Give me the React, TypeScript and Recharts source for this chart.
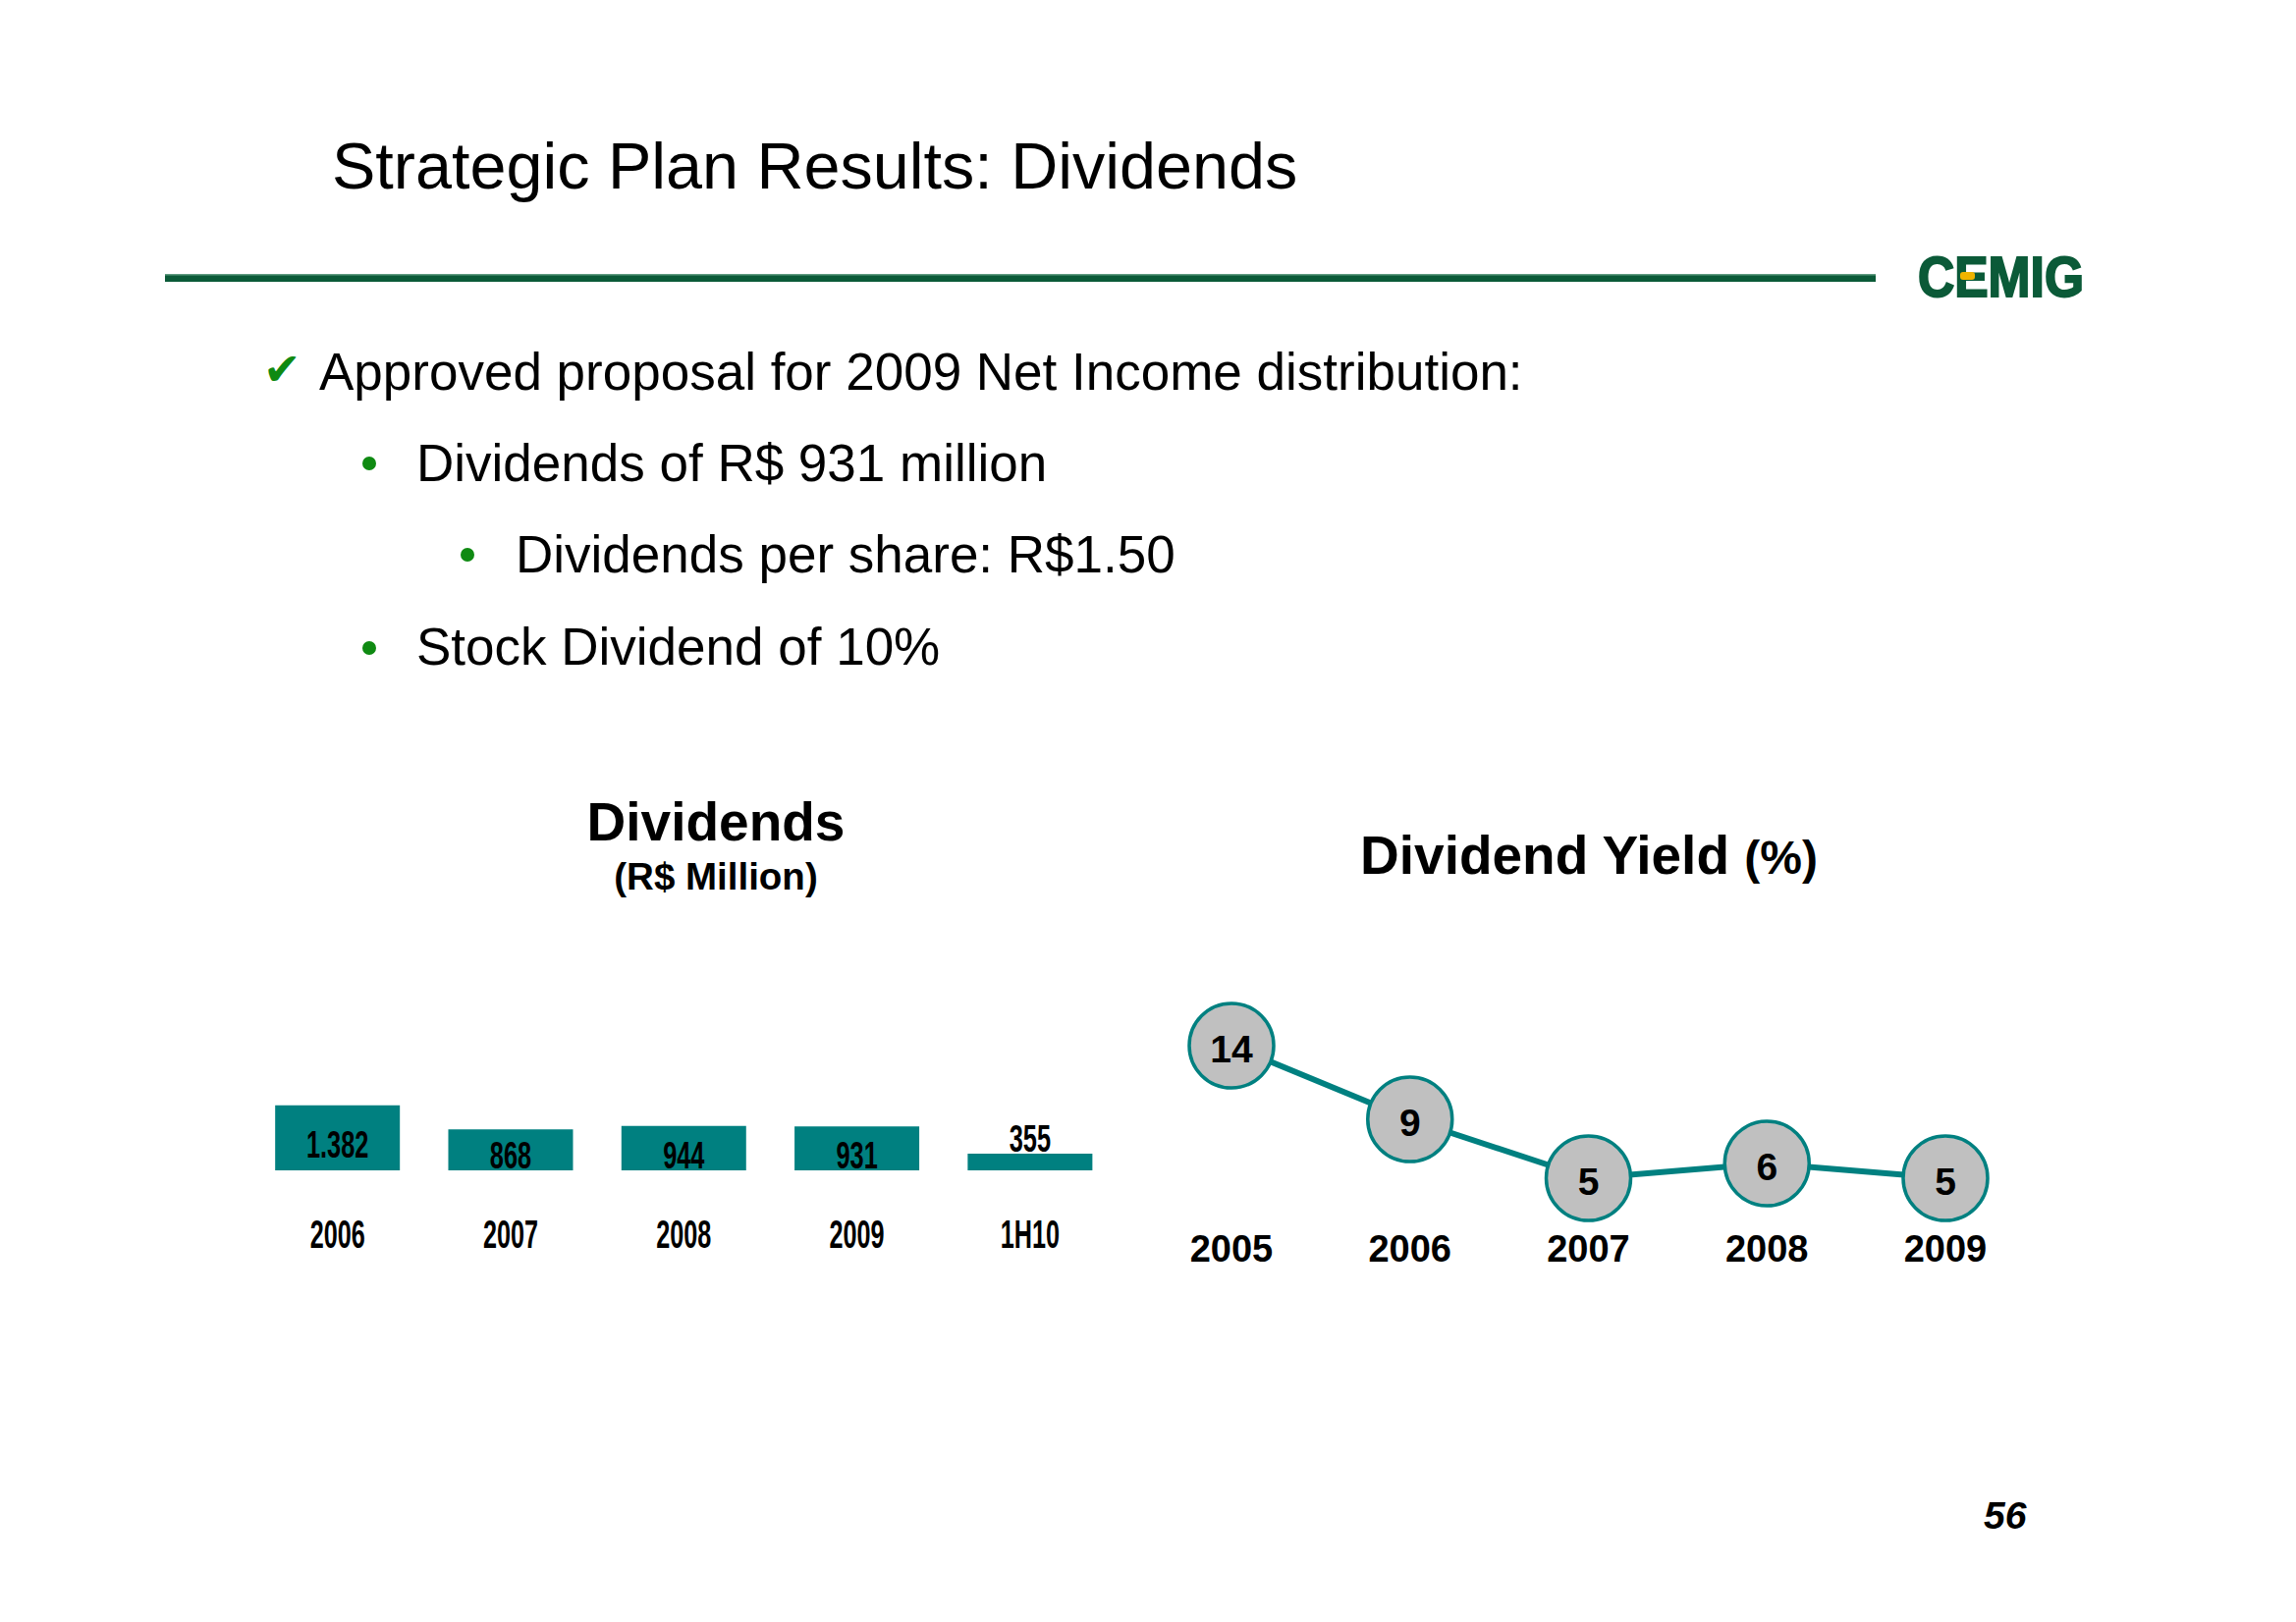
import React from 'react';
import { BarChart, Bar, XAxis, YAxis, LabelList, LineChart, Line } from 'recharts';

// ---------- data ----------
const dividendCategories = ['2006', '2007', '2008', '2009', '1H10'];
const dividendValues = [1382, 868, 944, 931, 355];
const dividendLabels = ['1.382', '868', '944', '931', '355'];

const yieldYears = ['2005', '2006', '2007', '2008', '2009'];
const yieldValues = [14, 9, 5, 6, 5];

const bulletLines = [
  'Approved proposal for 2009 Net Income distribution:',
  'Dividends of R$ 931 million',
  'Dividends per share: R$1.50',
  'Stock Dividend of 10%',
];

const barData = dividendCategories.map((c, i) => ({ category: c, value: dividendValues[i], label: dividendLabels[i] }));
const lineData = yieldYears.map((y, i) => ({ year: y, value: yieldValues[i] }));

const FONT = '"Liberation Sans", Arial, Helvetica, sans-serif';
const TEAL = '#008080';
const GREEN = '#0f8a12';
const DARK_GREEN = '#0b5a38';

// ---------- custom renderers ----------
const BarTick = (props: any) => {
  const { x, y, payload } = props;
  return (
    <text
      transform={`translate(${x},${y + 79}) scale(0.63,1)`}
      textAnchor="middle"
      fontSize={40}
      fontWeight="bold"
      fontFamily={FONT}
      fill="#000"
    >
      {payload.value}
    </text>
  );
};

const BarValueLabel = (props: any) => {
  const vb = props.viewBox || props;
  const x = vb.x;
  const y = vb.y;
  const width = vb.width;
  const height = vb.height;
  const cx = x + width / 2;
  const bottom = y + height;
  const baseline = height < 25 ? y - 1.5 : Math.min(bottom - 2, y + 53);
  return (
    <text
      transform={`translate(${cx},${baseline}) scale(0.65,1)`}
      textAnchor="middle"
      fontSize={39}
      fontWeight="bold"
      fontFamily={FONT}
      fill="#000"
    >
      {props.value}
    </text>
  );
};

const LineTick = (props: any) => {
  const { x, y, payload } = props;
  return (
    <text x={x} y={y + 10} textAnchor="middle" fontSize={38} fontWeight="bold" fontFamily={FONT} fill="#000">
      {payload.value}
    </text>
  );
};

const YieldDot = (props: any) => {
  const { cx, cy, value, index } = props;
  if (cx == null || cy == null) return <g key={`d-${index}`} />;
  return (
    <g key={`d-${index}`}>
      <circle cx={cx} cy={cy} r={43} fill="#c0c0c0" stroke={TEAL} strokeWidth={3.5} />
      <text x={cx} y={cy + 17} textAnchor="middle" fontSize={39} fontWeight="bold" fontFamily={FONT} fill="#000">
        {value}
      </text>
    </g>
  );
};

// ---------- page ----------
export default function App() {
  const bulletX = [325, 424, 525, 424];
  const bulletY = [397, 490, 583, 677];
  const dotX = [0, 376, 476, 376];
  const dotY = [0, 472, 565, 660];

  return (
    <div
      style={{
        position: 'absolute',
        left: 0,
        top: 0,
        width: 2338,
        height: 1652,
        background: '#ffffff',
        overflow: 'hidden',
        fontFamily: FONT,
      }}
    >
      <svg width={2338} height={1652} style={{ position: 'absolute', left: 0, top: 0 }}>
        {/* Title */}
        <text x={338} y={192} fontSize={66.5} fontFamily={FONT} fill="#000">
          Strategic Plan Results: Dividends
        </text>
        {/* Green rule */}
        <rect x={168} y={279} width={1742} height={8} fill={DARK_GREEN} />
        <rect x={168} y={279} width={1742} height={1.5} fill="#5f9a80" />
        {/* Logo */}
        <text
          x={1953}
          y={302}
          fontSize={57}
          fontWeight={900}
          fontFamily={FONT}
          fill={DARK_GREEN}
          stroke={DARK_GREEN}
          strokeWidth={2}
          textLength={169}
          lengthAdjust="spacingAndGlyphs"
        >
          CEMIG
        </text>
        <rect x={1996} y={277} width={15} height={8} rx={3} fill="#f0b400" />

        {/* Bullets */}
        <text x={268} y={392} fontSize={46} fontFamily='"DejaVu Sans", sans-serif' fill={GREEN}>
          ✔
        </text>
        {bulletLines.map((t, i) => (
          <g key={i}>
            {i > 0 && <circle cx={dotX[i]} cy={dotY[i]} r={7} fill={GREEN} />}
            <text x={bulletX[i]} y={bulletY[i]} fontSize={53} fontFamily={FONT} fill="#000">
              {t}
            </text>
          </g>
        ))}

        {/* Chart titles */}
        <text x={729} y={856} textAnchor="middle" fontSize={55} fontWeight="bold" fontFamily={FONT} fill="#000">
          Dividends
        </text>
        <text x={729} y={906} textAnchor="middle" fontSize={38.5} fontWeight="bold" fontFamily={FONT} fill="#000">
          (R$ Million)
        </text>
        <text x={1618} y={890} textAnchor="middle" fontWeight="bold" fontFamily={FONT} fill="#000">
          <tspan fontSize={55}>Dividend Yield </tspan>
          <tspan fontSize={48}>(%)</tspan>
        </text>

        {/* Page number */}
        <text x={2020} y={1557} fontSize={39} fontWeight="bold" fontStyle="italic" fontFamily={FONT} fill="#000">
          56
        </text>
      </svg>

      {/* Dividends bar chart */}
      <div style={{ position: 'absolute', left: 200, top: 1000, width: 1000, height: 320 }}>
        <BarChart
          width={1000}
          height={320}
          data={barData}
          margin={{ top: 96, right: 63, bottom: 48, left: 55.5 }}
          barCategoryGap="14%"
        >
          <XAxis
            dataKey="category"
            axisLine={false}
            tickLine={false}
            tickSize={0}
            tickMargin={0}
            height={80}
            interval={0}
            tick={<BarTick />}
          />
          <YAxis hide domain={[0, 2000]} />
          <Bar dataKey="value" fill={TEAL} isAnimationActive={false}>
            <LabelList dataKey="label" content={<BarValueLabel />} />
          </Bar>
        </BarChart>
      </div>

      {/* Dividend yield line chart */}
      <div style={{ position: 'absolute', left: 1100, top: 950, width: 1100, height: 400 }}>
        <LineChart
          width={1100}
          height={400}
          data={lineData}
          margin={{ top: 115, right: 219, bottom: 25, left: 154 }}
        >
          <XAxis
            dataKey="year"
            scale="point"
            axisLine={false}
            tickLine={false}
            tickSize={0}
            tickMargin={0}
            height={50}
            interval={0}
            tick={<LineTick />}
          />
          <YAxis hide domain={[0, 14]} />
          <Line
            dataKey="value"
            stroke={TEAL}
            strokeWidth={6}
            dot={<YieldDot />}
            activeDot={false}
            isAnimationActive={false}
          />
        </LineChart>
      </div>
    </div>
  );
}
